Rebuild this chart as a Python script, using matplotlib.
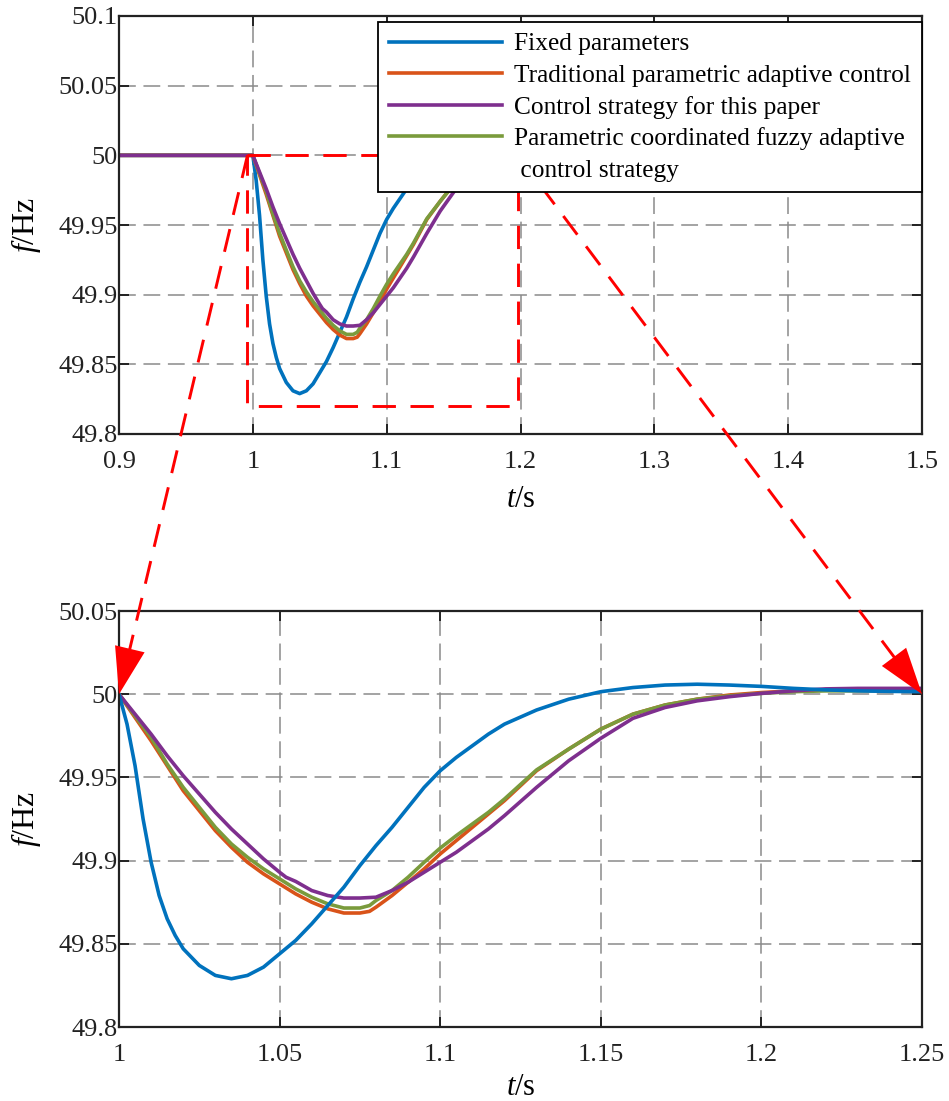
import matplotlib
matplotlib.use("Agg")
import matplotlib.pyplot as plt
from matplotlib.lines import Line2D
from matplotlib.patches import FancyArrowPatch, ArrowStyle
import numpy as np

plt.rcParams['font.family'] = ['Liberation Serif', 'DejaVu Serif']
plt.rcParams['mathtext.fontset'] = 'custom'
plt.rcParams['mathtext.rm'] = 'Liberation Serif'
plt.rcParams['mathtext.it'] = 'Liberation Serif:italic'

# ---------------- data ----------------
labels = ["Fixed parameters",
          "Traditional parametric adaptive control",
          "Control strategy for this paper",
          "Parametric coordinated fuzzy adaptive",
          " control strategy"]
colors = ["#0072BD", "#D95319", "#7E2F8E", "#7A9B3C"]

t_fixed = [0.9, 1.0, 1.0025, 1.005, 1.0075, 1.010, 1.0125, 1.015, 1.0175, 1.020, 1.025,
           1.030, 1.035, 1.040, 1.045, 1.050, 1.055, 1.060, 1.065, 1.070, 1.075,
           1.080, 1.085, 1.090, 1.095, 1.100, 1.105, 1.110, 1.115, 1.120, 1.130,
           1.140, 1.150, 1.160, 1.170, 1.180, 1.190, 1.200, 1.210, 1.220, 1.230,
           1.240, 1.250, 1.300, 1.400, 1.500]
f_fixed = [50.0, 50.0, 49.982, 49.957, 49.925, 49.899, 49.879, 49.865, 49.855, 49.847, 49.837,
           49.831, 49.829, 49.831, 49.836, 49.844, 49.852, 49.862, 49.873, 49.884, 49.897,
           49.909, 49.920, 49.932, 49.944, 49.954, 49.962, 49.969, 49.976, 49.982, 49.9905,
           49.997, 50.0015, 50.004, 50.0055, 50.006, 50.0055, 50.0047, 50.0035, 50.0026, 50.002,
           50.0017, 50.0015, 50.001, 50.0, 50.0]

t_trad = [0.9, 1.0, 1.005, 1.010, 1.015, 1.020, 1.025, 1.030, 1.035, 1.040, 1.045,
          1.050, 1.055, 1.060, 1.065, 1.070, 1.075, 1.078, 1.080, 1.085, 1.090,
          1.095, 1.100, 1.105, 1.110, 1.115, 1.120, 1.130, 1.140, 1.150, 1.160,
          1.170, 1.180, 1.190, 1.200, 1.210, 1.220, 1.230, 1.240, 1.250, 1.300, 1.400, 1.500]
f_trad = [50.0, 50.0, 49.986, 49.972, 49.957, 49.942, 49.930, 49.918, 49.908, 49.899, 49.892,
          49.886, 49.880, 49.875, 49.871, 49.8685, 49.8685, 49.8695, 49.872, 49.879, 49.887,
          49.895, 49.904, 49.912, 49.920, 49.928, 49.936, 49.954, 49.967, 49.979, 49.988,
          49.9935, 49.997, 49.9995, 50.001, 50.002, 50.0025, 50.0025, 50.0025, 50.0025, 50.002, 50.001, 50.001]

t_paper = [0.9, 1.0, 1.005, 1.010, 1.015, 1.020, 1.025, 1.030, 1.035, 1.040, 1.045,
           1.050, 1.052, 1.055, 1.060, 1.065, 1.070, 1.075, 1.080, 1.085, 1.090,
           1.095, 1.100, 1.105, 1.110, 1.115, 1.120, 1.130, 1.140, 1.150, 1.160,
           1.170, 1.180, 1.190, 1.200, 1.210, 1.220, 1.230, 1.240, 1.250, 1.300, 1.400, 1.500]
f_paper = [50.0, 50.0, 49.988, 49.976, 49.963, 49.951, 49.940, 49.929, 49.919, 49.910, 49.901,
           49.893, 49.890, 49.8875, 49.882, 49.879, 49.8775, 49.8775, 49.878, 49.882, 49.887,
           49.893, 49.899, 49.905, 49.912, 49.919, 49.927, 49.944, 49.960, 49.9735, 49.9855,
           49.992, 49.996, 49.9985, 50.0005, 50.002, 50.0032, 50.0035, 50.0035, 50.0035, 50.003, 50.002, 50.002]

t_fuzzy = [0.9, 1.0, 1.005, 1.010, 1.015, 1.020, 1.025, 1.030, 1.035, 1.040, 1.045,
           1.050, 1.055, 1.060, 1.065, 1.070, 1.075, 1.078, 1.080, 1.085, 1.090,
           1.095, 1.100, 1.105, 1.110, 1.115, 1.120, 1.130, 1.140, 1.150, 1.160,
           1.170, 1.180, 1.190, 1.200, 1.210, 1.220, 1.230, 1.240, 1.250, 1.300, 1.400, 1.500]
f_fuzzy = [50.0, 50.0, 49.987, 49.974, 49.958, 49.944, 49.932, 49.920, 49.910, 49.902, 49.895,
           49.889, 49.883, 49.878, 49.874, 49.8715, 49.8715, 49.873, 49.876, 49.882, 49.890,
           49.899, 49.9075, 49.915, 49.922, 49.929, 49.937, 49.9545, 49.967, 49.979, 49.988,
           49.9935, 49.997, 49.999, 50.0005, 50.0015, 50.002, 50.002, 50.002, 50.002, 50.002, 50.001, 50.001]

series = [(t_fixed, f_fixed), (t_trad, f_trad), (t_paper, f_paper), (t_fuzzy, f_fuzzy)]

top_xticks = [0.9, 1.0, 1.1, 1.2, 1.3, 1.4, 1.5]
top_xlabels = ["0.9", "1", "1.1", "1.2", "1.3", "1.4", "1.5"]
top_yticks = [49.8, 49.85, 49.9, 49.95, 50.0, 50.05, 50.1]
top_ylabels = ["49.8", "49.85", "49.9", "49.95", "50", "50.05", "50.1"]
bot_xticks = [1.0, 1.05, 1.1, 1.15, 1.2, 1.25]
bot_xlabels = ["1", "1.05", "1.1", "1.15", "1.2", "1.25"]
bot_yticks = [49.8, 49.85, 49.9, 49.95, 50.0, 50.05]
bot_ylabels = ["49.8", "49.85", "49.9", "49.95", "50", "50.05"]

zoom_t = [0.996, 1.198]
zoom_f = [49.82, 50.0]
arrow_targets = [(1.0, 50.0), (1.25, 50.0)]

# ---------------- figure ----------------
W, H = 949, 1101
fig = plt.figure(figsize=(W / 100, H / 100), dpi=100)
ax1 = fig.add_axes([119 / W, 1 - 434 / H, 803 / W, 418 / H])
ax2 = fig.add_axes([119 / W, 1 - 1027 / H, 803 / W, 416 / H])
ax1.set_zorder(3)
ax2.set_zorder(1)

FS = 19
grid_kw = dict(color="#8a8a8a", linestyle=(0, (11, 5)), linewidth=1.1)


def style(ax, xt, xl, yt, yl, xlim, ylim, xlabelpad):
    ax.set_xlim(*xlim)
    ax.set_ylim(*ylim)
    ax.set_xticks(xt)
    ax.set_xticklabels(xl)
    ax.set_yticks(yt)
    ax.set_yticklabels(yl)
    ax.tick_params(direction="in", length=7, width=1.4, top=True, right=True,
                   labelsize=FS, colors="#222222")
    ax.tick_params(axis="y", pad=1)
    ax.tick_params(axis="x", pad=12)
    for s in ax.spines.values():
        s.set_linewidth(1.6)
        s.set_color("#222222")
    ax.grid(True, **grid_kw)
    ax.set_axisbelow(True)
    ax.set_xlabel(r"$\mathit{t}$/s", fontsize=22, labelpad=xlabelpad)
    ax.set_ylabel(r"$\mathit{f}$/Hz", fontsize=23)
    ax.yaxis.set_label_coords(-0.095, 0.5)


style(ax1, top_xticks, top_xlabels, top_yticks, top_ylabels, (0.9, 1.5), (49.8, 50.1), 9)
style(ax2, bot_xticks, bot_xlabels, bot_yticks, bot_ylabels, (1.0, 1.25), (49.8, 50.05), 5)
ax2.patch.set_visible(False)

lw = 2.6
top_order = [0, 1, 3, 2]
handles = {}
for z, i in enumerate(top_order):
    t, f = series[i]
    ln, = ax1.plot(t, f, color=colors[i], lw=lw, zorder=2 + z * 0.1)
    handles[i] = ln

bot_order = [1, 3, 2, 0]
for z, i in enumerate(bot_order):
    t, f = series[i]
    ax2.plot(t, f, color=colors[i], lw=lw, zorder=2 + z * 0.1)

blank = Line2D([], [], color="none")
leg = ax1.legend([handles[0], handles[1], handles[2], handles[3], blank], labels,
                 loc="upper right", bbox_to_anchor=(1.0, 0.9856), borderaxespad=0,
                 fontsize=18.3, handlelength=4.45, handletextpad=0.5, labelspacing=0.34,
                 borderpad=0.42, fancybox=False, framealpha=1, edgecolor="black")
leg.get_frame().set_linewidth(1.3)
leg.set_zorder(10)
for lh in leg.get_lines()[:4]:
    lh.set_linewidth(2.6)

# ---------------- zoom box and arrows ----------------
red_kw = dict(color="red", linewidth=2.1, linestyle=(0, (8, 5)))
rx = [zoom_t[0], zoom_t[1], zoom_t[1], zoom_t[0], zoom_t[0]]
ry = [zoom_f[1], zoom_f[1], zoom_f[0], zoom_f[0], zoom_f[1]]
ax1.plot(rx, ry, zorder=4, **red_kw)

to_fig = fig.transFigure.inverted()
starts = [(zoom_t[0], zoom_f[1]), (zoom_t[1], zoom_f[1])]
for (sx, sy), (ex, ey) in zip(starts, arrow_targets):
    p0 = np.array(ax1.transData.transform((sx, sy)))
    p1 = np.array(ax2.transData.transform((ex, ey)))
    d = p1 - p0
    d_unit = d / np.hypot(*d)
    pm = p1 - d_unit * 46  # start of the arrow head (pixels)
    a, b, c = to_fig.transform(p0), to_fig.transform(pm), to_fig.transform(p1)
    ln = Line2D([a[0], b[0]], [a[1], b[1]], transform=fig.transFigure,
                clip_on=False, zorder=4, **red_kw)
    ax1.add_artist(ln)
    head = FancyArrowPatch(b, c, transform=fig.transFigure,
                           arrowstyle=ArrowStyle("-|>", head_length=1.6, head_width=0.52),
                           mutation_scale=21, color="red", linewidth=0,
                           shrinkA=0, shrinkB=0, clip_on=False, zorder=4)
    ax1.add_artist(head)

fig.savefig("out.png", dpi=100, facecolor="white")
